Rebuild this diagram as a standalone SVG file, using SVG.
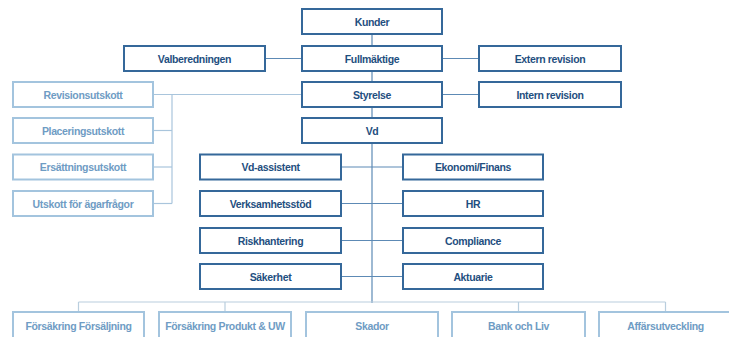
<svg xmlns="http://www.w3.org/2000/svg" width="729" height="337" viewBox="0 0 729 337">
<style>
.d rect{fill:#fff;stroke:#35689a;stroke-width:2}
.l rect{fill:#fff;stroke:#a3c4de;stroke-width:2}
text{font-family:"Liberation Sans",Arial,sans-serif;font-weight:bold;font-size:10.5px;letter-spacing:-0.35px;text-anchor:middle}
.d text{fill:#1f4f80}
.l text{fill:#6f9cc4}
.c line{stroke:#5d8ab5;stroke-width:1.2}
.cl line{stroke:#a9c5dc;stroke-width:1.2}
.cb line{stroke:#b9cede;stroke-width:1.2}
</style>
<g class="c" id="connectors">
<line x1="372" y1="34" x2="372" y2="303"/>
<line x1="265" y1="58.5" x2="302" y2="58.5"/>
<line x1="442" y1="58.5" x2="479" y2="58.5"/>
<line x1="442" y1="94.5" x2="479" y2="94.5"/>
<line x1="341" y1="167" x2="403" y2="167"/>
<line x1="341" y1="203.5" x2="403" y2="203.5"/>
<line x1="341" y1="240.5" x2="403" y2="240.5"/>
<line x1="341" y1="276.5" x2="403" y2="276.5"/>
</g>
<g class="cl" id="connectors-committees">
<line x1="153" y1="94.5" x2="302" y2="94.5"/>
<line x1="172" y1="94.5" x2="172" y2="203.5"/>
<line x1="153" y1="130.5" x2="172" y2="130.5"/>
<line x1="153" y1="167" x2="172" y2="167"/>
<line x1="153" y1="203.5" x2="172" y2="203.5"/>
</g>
<g class="cb" id="connectors-bottom">
<line x1="78.5" y1="302" x2="665.5" y2="302"/>
<line x1="78.5" y1="302" x2="78.5" y2="312"/>
<line x1="225" y1="302" x2="225" y2="312"/>
<line x1="518.5" y1="302" x2="518.5" y2="312"/>
<line x1="665.5" y1="302" x2="665.5" y2="312"/>
</g>
<g class="d" id="kunder"><rect x="302" y="9" width="140" height="25"/><text x="372" y="25.5">Kunder</text></g>
<g class="d" id="fullmaktige"><rect x="302" y="46" width="140" height="25"/><text x="372" y="62.5">Fullmäktige</text></g>
<g class="d" id="styrelse"><rect x="302" y="82" width="140" height="25"/><text x="372" y="98.5">Styrelse</text></g>
<g class="d" id="vd"><rect x="302" y="118" width="140" height="25"/><text x="372" y="134.5">Vd</text></g>
<g class="d" id="valberedningen"><rect x="124" y="46" width="141" height="25"/><text x="194.5" y="62.5">Valberedningen</text></g>
<g class="d" id="extern-revision"><rect x="479" y="46" width="142" height="25"/><text x="550" y="62.5">Extern revision</text></g>
<g class="d" id="intern-revision"><rect x="479" y="82" width="142" height="25"/><text x="550" y="98.5">Intern revision</text></g>
<g class="l" id="revisionsutskott"><rect x="13" y="82" width="140" height="25"/><text x="83" y="98.5">Revisionsutskott</text></g>
<g class="l" id="placeringsutskott"><rect x="13" y="118" width="140" height="25"/><text x="83" y="134.5">Placeringsutskott</text></g>
<g class="l" id="ersattningsutskott"><rect x="13" y="154.5" width="140" height="25"/><text x="83" y="171">Ersättningsutskott</text></g>
<g class="l" id="utskott-agarfragor"><rect x="13" y="191" width="140" height="25"/><text x="83" y="207.5">Utskott för ägarfrågor</text></g>
<g class="d" id="vd-assistent"><rect x="200" y="154.5" width="141" height="25"/><text x="270.5" y="171">Vd-assistent</text></g>
<g class="d" id="verksamhetsstod"><rect x="200" y="191" width="141" height="25"/><text x="270.5" y="207.5">Verksamhetsstöd</text></g>
<g class="d" id="riskhantering"><rect x="200" y="228" width="141" height="25"/><text x="270.5" y="244.5">Riskhantering</text></g>
<g class="d" id="sakerhet"><rect x="200" y="264" width="141" height="25"/><text x="270.5" y="280.5">Säkerhet</text></g>
<g class="d" id="ekonomi"><rect x="403" y="154.5" width="140" height="25"/><text x="473" y="171">Ekonomi/Finans</text></g>
<g class="d" id="hr"><rect x="403" y="191" width="140" height="25"/><text x="473" y="207.5">HR</text></g>
<g class="d" id="compliance"><rect x="403" y="228" width="140" height="25"/><text x="473" y="244.5">Compliance</text></g>
<g class="d" id="aktuarie"><rect x="403" y="264" width="140" height="25"/><text x="473" y="280.5">Aktuarie</text></g>
<g class="l" id="forsakring-forsaljning"><rect x="13" y="312" width="131" height="30"/><text x="78.5" y="329.5">Försäkring Försäljning</text></g>
<g class="l" id="forsakring-produkt"><rect x="159" y="312" width="132" height="30"/><text x="225" y="329.5">Försäkring Produkt &amp; UW</text></g>
<g class="l" id="skador"><rect x="306" y="312" width="132" height="30"/><text x="372" y="329.5">Skador</text></g>
<g class="l" id="bank-liv"><rect x="452" y="312" width="133" height="30"/><text x="518.5" y="329.5">Bank och Liv</text></g>
<g class="l" id="affarsutveckling"><rect x="599" y="312" width="133" height="30"/><text x="665.5" y="329.5">Affärsutveckling</text></g>
</svg>
